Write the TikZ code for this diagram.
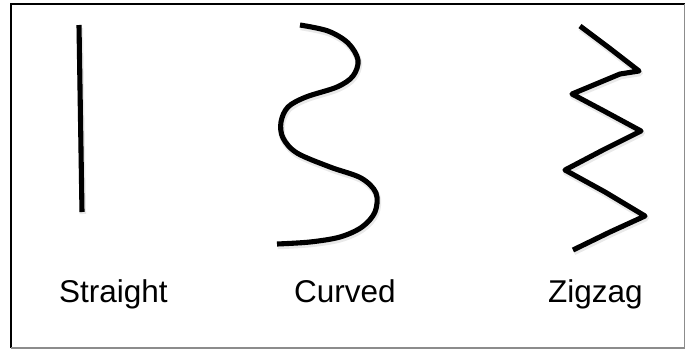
\documentclass[tikz,border=0pt]{standalone}
\usepackage{fontspec}
\setmainfont{Liberation Sans}
\begin{document}
\begin{tikzpicture}[x=1pt,y=-1pt,
  stroke/.style={line width=5.1pt, black, line join=round, line cap=butt},
  shadowstroke/.style={line width=6.5pt, black!25, opacity=0.35, line join=round, shift={(0.8pt,-2pt)}},
  lbl/.style={anchor=base, inner sep=0pt, font=\fontsize{31.5}{36}\selectfont}]
\useasboundingbox (0,0) rectangle (686,349);
% frame
\draw[line width=1.1pt, black] (11,348) -- (11,4) -- (684.5,4);
\draw[line width=1.1pt, black!45] (684.5,4) -- (684.5,348) -- (11,348);
% straight
\draw[shadowstroke] (79,26) -- (82,212);
\draw[stroke] (79,25) -- (82,212);
% curved
\def\curvepts{(300,25) (328,31) (348,43) (358,60) (353,76) (337,87) (306,97) (288,107) (281,122) (283,138) (297,153) (330,167) (361,178) (376,193) (375,212) (362,227) (340,237) (310,242) (277,244)}
\draw[shadowstroke] plot[smooth, tension=0.55] coordinates {\curvepts};
\draw[stroke] plot[smooth, tension=0.55] coordinates {\curvepts};
% zigzag
\def\zigpts{(580,26) -- (608,47) -- (639,71) -- (620,74) -- (572,94) -- (604,111) -- (641,131) -- (603,150) -- (565,170) -- (605,192) -- (645,216) -- (610,232) -- (573,250)}
\draw[shadowstroke] \zigpts;
\draw[stroke] \zigpts;
% labels
\node[lbl] (straight) at (113.3,302) {Straight};
\node[lbl] (curved) at (345,302) {Curved};
\node[lbl] (zigzag) at (595.5,302) {Zigzag};
\end{tikzpicture}
\end{document}
